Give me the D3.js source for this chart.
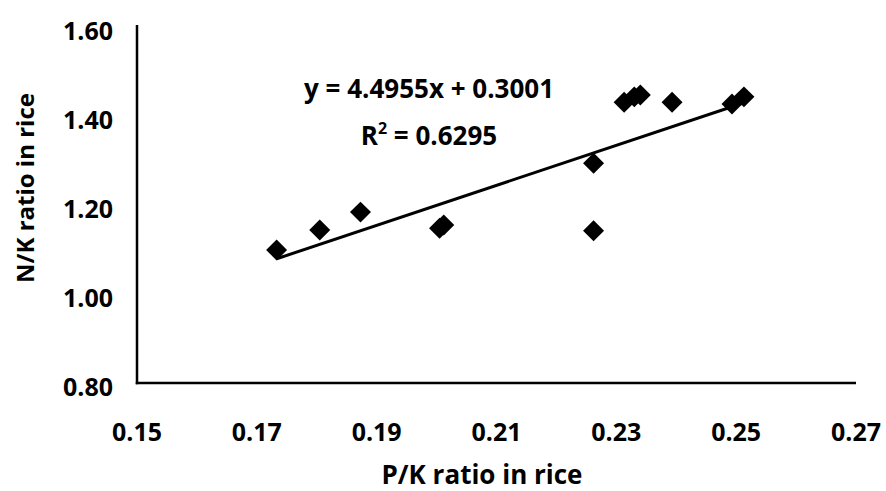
<!DOCTYPE html>
<html>
<head>
    <meta charset="utf-8">
    <script src="https://d3js.org/d3.v7.min.js"></script>
    <style>
      body { margin: 0; background: #fff; }
      text { font-family: "Open Sans", sans-serif; font-weight: 700; fill: #000; }
    </style>
</head>
<body>
    <script>
      // P/K and N/K ratios
      const pkRatio = [0.1733, 0.1805, 0.1873, 0.2005, 0.2012, 0.2262, 0.2262, 0.2313, 0.2330, 0.2340, 0.2393, 0.2493, 0.2513];
      const nkRatio = [1.099, 1.144, 1.184, 1.148, 1.155, 1.294, 1.142, 1.431, 1.443, 1.447, 1.431, 1.427, 1.443];

      const xTicks = [0.15, 0.17, 0.19, 0.21, 0.23, 0.25, 0.27];
      const yTicks = [0.80, 1.00, 1.20, 1.40, 1.60];

      // linear trend shown on the chart
      const slope = 4.4955, intercept = 0.3001, rSquared = 0.6295;

      const width = 886, height = 491;

      const svg = d3.select('body').append('svg')
          .attr('width', width)
          .attr('height', height);

      const x = d3.scaleLinear().domain([0.15, 0.27]).range([137, 856]);
      const y = d3.scaleLinear().domain([0.80, 1.60]).range([383, 27]);

      // axis lines (no tick marks on the original)
      svg.append('line')
          .attr('x1', x(0.15)).attr('x2', x(0.15))
          .attr('y1', y(1.60) - 2).attr('y2', y(0.80) + 1.25)
          .attr('stroke', '#000').attr('stroke-width', 2.5);
      svg.append('line')
          .attr('x1', x(0.15) - 1.25).attr('x2', x(0.27))
          .attr('y1', y(0.80)).attr('y2', y(0.80))
          .attr('stroke', '#000').attr('stroke-width', 2.5);

      // tick labels
      svg.selectAll('.ytick')
          .data(yTicks)
          .enter().append('text')
          .attr('class', 'ytick')
          .attr('x', x(0.15) - 24)
          .attr('y', d => y(d) + 13)
          .attr('text-anchor', 'end')
          .style('font-size', '25px')
          .text(d => d.toFixed(2));

      svg.selectAll('.xtick')
          .data(xTicks)
          .enter().append('text')
          .attr('class', 'xtick')
          .attr('x', d => x(d))
          .attr('y', 441)
          .attr('text-anchor', 'middle')
          .style('font-size', '25px')
          .text(d => d.toFixed(2));

      // axis titles
      svg.append('text')
          .attr('x', 482)
          .attr('y', 484)
          .attr('text-anchor', 'middle')
          .style('font-size', '26px')
          .text('P/K ratio in rice');

      svg.append('text')
          .attr('transform', 'translate(34,188) rotate(-90)')
          .attr('text-anchor', 'middle')
          .style('font-size', '24px')
          .text('N/K ratio in rice');

      // trend line
      const xExtent = d3.extent(pkRatio);
      svg.append('line')
          .attr('x1', x(xExtent[0])).attr('y1', y(slope * xExtent[0] + intercept))
          .attr('x2', x(xExtent[1])).attr('y2', y(slope * xExtent[1] + intercept))
          .attr('stroke', '#000').attr('stroke-width', 3);

      // points as diamonds
      const points = pkRatio.map((v, i) => ({ pk: v, nk: nkRatio[i] }));
      svg.selectAll('.pt')
          .data(points)
          .enter().append('path')
          .attr('class', 'pt')
          .attr('d', d3.symbol().type(d3.symbolSquare).size(220))
          .attr('transform', d => `translate(${x(d.pk)},${y(d.nk)}) rotate(45)`)
          .attr('fill', '#000');

      // equation label
      svg.append('text')
          .attr('x', 429)
          .attr('y', 98)
          .attr('text-anchor', 'middle')
          .style('font-size', '26px')
          .text(`y = ${slope}x + ${intercept}`);

      const r2 = svg.append('text')
          .attr('x', 429)
          .attr('y', 145)
          .attr('text-anchor', 'middle')
          .style('font-size', '26px');
      r2.append('tspan').text('R');
      r2.append('tspan').attr('dy', -11).style('font-size', '16px').text('2');
      r2.append('tspan').attr('dy', 11).text(` = ${rSquared}`);
    </script>
</body>
</html>
